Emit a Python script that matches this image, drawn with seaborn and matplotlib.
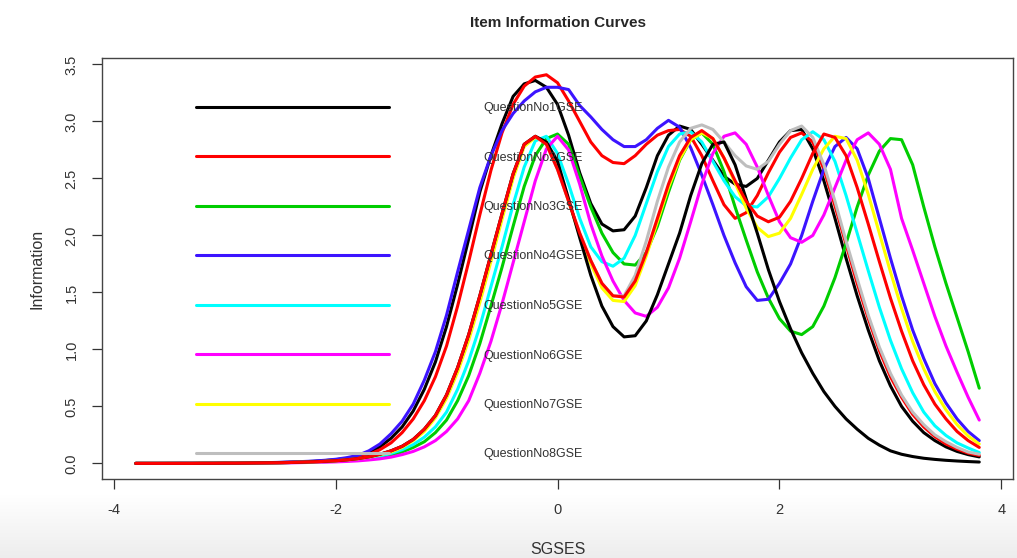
import matplotlib

matplotlib.use("Agg")
import matplotlib.pyplot as plt
from matplotlib.lines import Line2D
import numpy as np
import pandas as pd
import seaborn as sns

# ability grid (SGSES) shared by all item curves
THETA = np.round(np.linspace(-3.8, 3.8, 77), 1)

ITEMS = [f"QuestionNo{i}GSE" for i in range(1, 11)]
LEGEND_ITEMS = ITEMS[:8]
COLORS = ["#000000", "#ff0000", "#00cd00", "#3c14ff", "#00ffff",
          "#ff00ff", "#ffff00", "#bebebe", "#000000", "#ff0000"]

# item information (rows of 10 grid points)
Q1 = [0, 0, 0, .001, .001, .001, .001, .002, .002, .003,
      .004, .005, .006, .008, .011, .014, .018, .024, .032, .044,
      .062, .095, .145, .22, .32, .46, .65, .89, 1.2, 1.57,
      1.97, 2.38, 2.7, 2.98, 3.22, 3.33, 3.36, 3.3, 3.15, 2.88,
      2.55, 2.28, 2.1, 2.04, 2.05, 2.17, 2.42, 2.7, 2.88, 2.96,
      2.93, 2.8, 2.66, 2.52, 2.45, 2.43, 2.5, 2.66, 2.82, 2.92,
      2.93, 2.76, 2.48, 2.15, 1.8, 1.47, 1.17, .9, .68, .5,
      .37, .27, .2, .145, .105, .077, .057]
Q2 = [0, 0, 0, 0, .001, .001, .001, .001, .002, .002,
      .003, .004, .005, .007, .009, .012, .015, .02, .027, .037,
      .052, .078, .12, .18, .27, .39, .55, .76, 1.03, 1.38,
      1.77, 2.18, 2.57, 2.9, 3.15, 3.31, 3.39, 3.41, 3.34, 3.18,
      3.0, 2.82, 2.7, 2.64, 2.63, 2.7, 2.8, 2.88, 2.92, 2.93,
      2.87, 2.7, 2.48, 2.27, 2.15, 2.2, 2.35, 2.55, 2.73, 2.86,
      2.9, 2.82, 2.58, 2.26, 1.92, 1.58, 1.27, .99, .76, .58,
      .43, .32, .235, .17, .125, .09, .07]
Q3 = [0, 0, 0, 0, 0, 0, 0, .001, .001, .002,
      .003, .004, .005, .006, .008, .01, .012, .015, .019, .024,
      .03, .04, .054, .074, .1, .14, .19, .27, .38, .55,
      .77, 1.05, 1.38, 1.72, 2.08, 2.43, 2.7, 2.85, 2.89, 2.8,
      2.52, 2.25, 2.02, 1.85, 1.75, 1.74, 1.85, 2.08, 2.38, 2.66,
      2.84, 2.9, 2.8, 2.56, 2.25, 1.96, 1.68, 1.45, 1.27, 1.16,
      1.13, 1.2, 1.38, 1.63, 1.93, 2.25, 2.53, 2.74, 2.85, 2.84,
      2.62, 2.25, 1.9, 1.58, 1.28, .98, .66]
Q4 = [0, 0, 0, 0, .001, .001, .001, .002, .002, .003,
      .004, .005, .007, .009, .012, .016, .02, .027, .036, .05,
      .07, .11, .17, .26, .37, .52, .73, .98, 1.3, 1.68,
      2.05, 2.42, 2.7, 2.92, 3.07, 3.18, 3.26, 3.3, 3.3, 3.28,
      3.14, 3.04, 2.93, 2.84, 2.78, 2.78, 2.84, 2.94, 3.01, 2.95,
      2.77, 2.53, 2.27, 2.0, 1.76, 1.55, 1.43, 1.44, 1.58, 1.75,
      2.0, 2.3, 2.58, 2.78, 2.86, 2.76, 2.5, 2.15, 1.8, 1.47,
      1.17, .92, .7, .53, .39, .28, .2]
Q5 = [0, 0, 0, 0, 0, 0, 0, .001, .001, .002,
      .002, .003, .004, .005, .007, .009, .011, .015, .019, .025,
      .034, .046, .064, .087, .12, .165, .23, .32, .45, .65,
      .9, 1.2, 1.55, 1.9, 2.27, 2.6, 2.83, 2.87, 2.72, 2.45,
      2.15, 1.9, 1.77, 1.73, 1.8, 2.0, 2.28, 2.56, 2.78, 2.89,
      2.91, 2.82, 2.65, 2.48, 2.34, 2.26, 2.25, 2.34, 2.5, 2.68,
      2.84, 2.91, 2.84, 2.65, 2.35, 2.02, 1.69, 1.37, 1.08, .83,
      .62, .45, .33, .245, .18, .135, .095]
Q6 = [0, 0, 0, 0, 0, 0, 0, 0, .001, .001,
      .001, .002, .003, .004, .005, .007, .009, .011, .013, .017,
      .022, .03, .04, .055, .077, .105, .145, .2, .28, .39,
      .55, .79, 1.07, 1.4, 1.76, 2.12, 2.48, 2.76, 2.87, 2.75,
      2.45, 2.1, 1.82, 1.6, 1.43, 1.32, 1.29, 1.37, 1.54, 1.8,
      2.12, 2.45, 2.72, 2.87, 2.9, 2.8, 2.6, 2.35, 2.12, 1.98,
      1.94, 2.0, 2.18, 2.42, 2.66, 2.84, 2.9, 2.8, 2.58, 2.15,
      1.87, 1.58, 1.29, 1.03, .8, .58, .38]
Q7 = [0, 0, 0, 0, 0, 0, .001, .001, .002, .002,
      .003, .004, .005, .006, .008, .01, .013, .017, .022, .03,
      .04, .055, .075, .1, .14, .2, .28, .4, .57, .8,
      1.08, 1.41, 1.77, 2.14, 2.5, 2.78, 2.86, 2.82, 2.6, 2.3,
      2.0, 1.75, 1.54, 1.43, 1.42, 1.56, 1.82, 2.12, 2.42, 2.67,
      2.84, 2.9, 2.85, 2.68, 2.46, 2.24, 2.07, 1.99, 2.02, 2.15,
      2.36, 2.58, 2.76, 2.87, 2.85, 2.66, 2.36, 2.02, 1.68, 1.36,
      1.07, .83, .63, .47, .34, .24, .17]
Q8 = [0, 0, 0, 0, 0, 0, .001, .001, .002, .002,
      .003, .004, .005, .006, .008, .011, .014, .018, .023, .031,
      .042, .058, .08, .11, .15, .21, .3, .42, .6, .84,
      1.13, 1.47, 1.83, 2.19, 2.54, 2.8, 2.87, 2.8, 2.58, 2.3,
      2.02, 1.78, 1.58, 1.47, 1.47, 1.65, 1.95, 2.3, 2.6, 2.82,
      2.94, 2.97, 2.93, 2.82, 2.7, 2.61, 2.58, 2.65, 2.8, 2.92,
      2.96, 2.86, 2.62, 2.3, 1.95, 1.62, 1.3, 1.02, .79, .6,
      .45, .34, .25, .19, .14, .1, .08]
Q9 = [0, 0, 0, 0, 0, 0, .001, .001, .002, .002,
      .003, .004, .005, .006, .008, .011, .014, .018, .023, .031,
      .042, .058, .08, .11, .15, .21, .3, .42, .6, .84,
      1.13, 1.47, 1.83, 2.19, 2.54, 2.8, 2.87, 2.82, 2.65, 2.32,
      1.98, 1.65, 1.38, 1.2, 1.11, 1.12, 1.25, 1.48, 1.75, 2.02,
      2.35, 2.63, 2.8, 2.82, 2.62, 2.32, 2.02, 1.7, 1.42, 1.18,
      .97, .79, .63, .5, .39, .3, .22, .16, .11, .08,
      .06, .045, .035, .027, .021, .016, .012]
Q10 = [0, 0, 0, 0, 0, 0, .001, .001, .002, .002,
       .003, .004, .005, .006, .008, .011, .014, .018, .023, .031,
       .042, .058, .08, .11, .15, .21, .3, .42, .6, .84,
       1.13, 1.47, 1.83, 2.19, 2.54, 2.8, 2.87, 2.8, 2.58, 2.3,
       2.02, 1.78, 1.58, 1.47, 1.46, 1.6, 1.85, 2.15, 2.45, 2.7,
       2.86, 2.92, 2.85, 2.68, 2.48, 2.3, 2.17, 2.12, 2.16, 2.3,
       2.5, 2.72, 2.89, 2.86, 2.7, 2.42, 2.1, 1.77, 1.45, 1.16,
       .9, .69, .52, .39, .28, .2, .14]

CURVES = [Q1, Q2, Q3, Q4, Q5, Q6, Q7, Q8, Q9, Q10]


def build_frame() -> pd.DataFrame:
    parts = []
    for name, vals in zip(ITEMS, CURVES):
        parts.append(pd.DataFrame({"theta": THETA, "info": vals, "item": name}))
    return pd.concat(parts, ignore_index=True)


def main() -> None:
    df = build_frame()

    sns.set_style("white")
    plt.rcParams["font.family"] = ["Liberation Sans", "DejaVu Sans"]

    W, H = 1017, 558
    fig = plt.figure(figsize=(W / 100, H / 100), dpi=100)

    # light grey fade at the bottom of the screenshot
    gax = fig.add_axes([0, 0, 1, 64 / H], zorder=-5)
    fade = np.linspace(0.93, 1.0, 64)[:, None, None] * np.ones((1, 1, 3))
    gax.imshow(fade, aspect="auto", extent=(0, 1, 0, 1), origin="lower")
    gax.axis("off")

    ax = fig.add_axes([102 / W, 1 - 479 / H, (1013 - 102) / W, (479 - 58) / H])
    ax.set_facecolor("white")

    sns.lineplot(data=df, x="theta", y="info", hue="item", hue_order=ITEMS,
                 palette=COLORS, linewidth=2.2, legend=False, ax=ax)

    ax.set_xlim(-4.104, 4.104)
    ax.set_ylim(-0.137, 3.557)
    ax.set_xticks([-4, -2, 0, 2, 4])
    ax.set_yticks(np.arange(0, 3.51, 0.5))
    ax.set_xticklabels(["-4", "-2", "0", "2", "4"])
    ax.set_yticklabels([f"{v:.1f}" for v in np.arange(0, 3.51, 0.5)],
                       rotation=90, va="center")
    ax.tick_params(direction="out", length=7, width=0.9, color="#333333",
                   labelsize=10.5, labelcolor="#333333", pad=10,
                   bottom=True, left=True)
    for sp in ax.spines.values():
        sp.set_color("#444444")
        sp.set_linewidth(1.0)

    ax.set_title("Item Information Curves", fontsize=11, fontweight="bold", pad=22)
    ax.set_xlabel("SGSES", fontsize=11.5, color="#333333", labelpad=18)
    ax.set_ylabel("Information", fontsize=11.5, color="#333333", labelpad=14)

    handles = [Line2D([], [], color=c, linewidth=2.2) for c in COLORS[:8]]
    ax.legend(handles, LEGEND_ITEMS, loc="upper left",
              bbox_to_anchor=((196 - 102) / 911, (479 - 102) / 421),
              frameon=False, fontsize=9, handlelength=15.4, handletextpad=7.6,
              labelspacing=3.0, borderpad=0, borderaxespad=0, labelcolor="#333333")

    fig.savefig("out.png", dpi=100, facecolor="white")
    plt.close(fig)


if __name__ == "__main__":
    main()
